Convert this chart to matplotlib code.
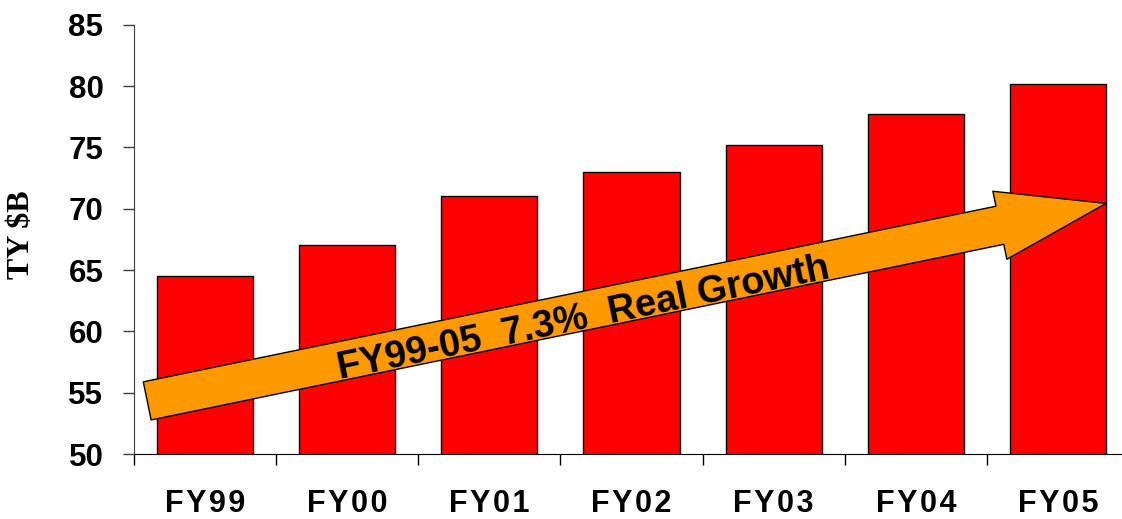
import numpy as np
import matplotlib
matplotlib.use("Agg")
import matplotlib.pyplot as plt
from matplotlib.patches import FancyArrowPatch

# data
years = ["FY99", "FY00", "FY01", "FY02", "FY03", "FY04", "FY05"]
budget = [64.5, 67.0, 71.0, 73.0, 75.2, 77.7, 80.2]
y_ticks = [50, 55, 60, 65, 70, 75, 80, 85]
growth_text = "FY99-05  7.3%  Real Growth"

# arrow annotation (data coords: category index, $B)
arrow_tail = (-0.407, 54.33)
arrow_tip = (6.338, 70.43)

plt.rcParams['font.family'] = ['Liberation Sans', 'DejaVu Sans']

fig = plt.figure(figsize=(11.22, 5.19), dpi=100)
ax = fig.add_axes([134 / 1122, 65 / 519, (1129 - 134) / 1122, (454 - 24.7) / 519])

x = np.arange(len(years))
ax.bar(x, budget, width=0.676, color='#FF0000', edgecolor='black', linewidth=1, zorder=2)

ax.set_xlim(-0.5, len(years) - 0.5)
ax.set_ylim(50, 85)

for s in ['top', 'right']:
    ax.spines[s].set_visible(False)
ax.spines['left'].set_color('#404040')
ax.spines['bottom'].set_color('black')

ax.set_yticks(y_ticks)
ax.set_yticklabels([str(v) for v in y_ticks], fontsize=22.5, fontweight='bold')
ax.tick_params(axis='y', length=8, width=1, color='#404040', pad=14)

hair = "\u200a"
ax.set_xticks(x)
ax.set_xticklabels([hair.join(list(lbl)) for lbl in years], fontsize=22, fontweight='bold')
ax.set_xticks(np.arange(len(years) + 1) - 0.5, minor=True)
ax.tick_params(axis='x', which='major', length=0, pad=25)
ax.tick_params(axis='x', which='minor', length=8, width=1, color='black')

ax.set_ylabel("TY $B", fontsize=23, fontweight='bold', family='Liberation Serif')
ax.yaxis.set_label_coords(-0.098, 0.51)

arrow = FancyArrowPatch(arrow_tail, arrow_tip,
                        arrowstyle="simple,head_length=78,head_width=50,tail_width=28",
                        mutation_scale=1, shrinkA=0, shrinkB=0,
                        facecolor='#FF9900', edgecolor='black', linewidth=1, zorder=3)
ax.add_patch(arrow)

p0 = ax.transData.transform(arrow_tail)
p1 = ax.transData.transform(arrow_tip)
angle = np.degrees(np.arctan2(p1[1] - p0[1], p1[0] - p0[0]))
ax.text(2.66, 61.0, growth_text, rotation=angle, rotation_mode='anchor',
        ha='center', va='center', fontsize=27.5, fontweight='bold', zorder=4)

fig.savefig("out.png", dpi=100)
